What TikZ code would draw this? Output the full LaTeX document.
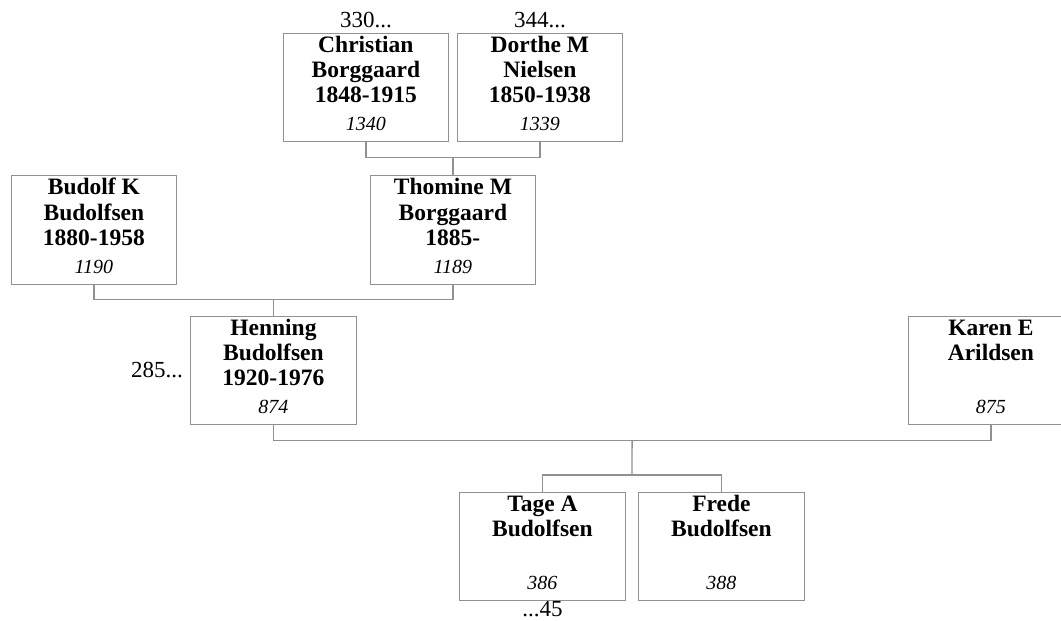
\documentclass[tikz,border=0pt]{standalone}
\usepackage{fontspec}
\setmainfont{Liberation Serif}
\usetikzlibrary{calc}
\definecolor{lc}{RGB}{145,145,145}
\tikzset{
  pbox/.style={draw=lc, line width=1.3pt, minimum width=165.5pt, minimum height=108.5pt, anchor=north west, inner sep=0pt},
  pname/.style={anchor=north, inner sep=0pt, align=center, font=\fontsize{23.5}{25.3}\selectfont\bfseries},
  pnum/.style={anchor=base, inner sep=0pt, font=\fontsize{20}{22}\selectfont\itshape},
  plabel/.style={inner sep=0pt, font=\fontsize{23}{25}\selectfont},
  conn/.style={draw=lc, line width=1.3pt}
}
\begin{document}
\begin{tikzpicture}[x=1pt, y=-1pt]
\useasboundingbox (0,0) rectangle (1061,621);
\clip (0,0) rectangle (1061,621);
% boxes
\node[pbox] (C) at (282.5,32.5) {};
\node[pbox] (D) at (456.5,32.5) {};
\node[pbox] (B) at (10.5,175) {};
\node[pbox] (T) at (369.5,175) {};
\node[pbox] (H) at (190,315.5) {};
\node[pbox] (K) at (907.5,315.5) {};
\node[pbox] (G) at (459,491.5) {};
\node[pbox] (F) at (638,491.5) {};
% names
\node[pname] (Cn) at (C.north) {\rule{0pt}{19.5pt}Christian\\Borggaard\\1848-1915};
\node[pname] (Dn) at (D.north) {\rule{0pt}{19.5pt}Dorthe M\\Nielsen\\1850-1938};
\node[pname] (Bn) at (B.north) {\rule{0pt}{19.5pt}Budolf K\\Budolfsen\\1880-1958};
\node[pname] (Tn) at (T.north) {\rule{0pt}{19.5pt}Thomine M\\Borggaard\\1885-};
\node[pname] (Hn) at (H.north) {\rule{0pt}{19.5pt}Henning\\Budolfsen\\1920-1976};
\node[pname] (Kn) at (K.north) {\rule{0pt}{19.5pt}Karen E\\Arildsen};
\node[pname] (Gn) at (G.north) {\rule{0pt}{19.5pt}Tage A\\Budolfsen};
\node[pname] (Fn) at (F.north) {\rule{0pt}{19.5pt}Frede\\Budolfsen};
% numbers
\node[pnum] (Cx) at ($(C.south)+(0,-11.5)$) {1340};
\node[pnum] (Dx) at ($(D.south)+(0,-11.5)$) {1339};
\node[pnum] (Bx) at ($(B.south)+(0,-11.5)$) {1190};
\node[pnum] (Tx) at ($(T.south)+(0,-11.5)$) {1189};
\node[pnum] (Hx) at ($(H.south)+(0,-11.5)$) {874};
\node[pnum] (Kx) at ($(K.south)+(0,-11.5)$) {875};
\node[pnum] (Gx) at ($(G.south)+(0,-11.5)$) {386};
\node[pnum] (Fx) at ($(F.south)+(0,-11.5)$) {388};
% extra labels
\node[plabel, anchor=base] (Ca) at ($(C.north)+(0,-4.7)$) {330...};
\node[plabel, anchor=base] (Da) at ($(D.north)+(0,-4.7)$) {344...};
\node[plabel, anchor=east] (Ha) at ($(H.west)+(-7,0)$) {285...};
\node[plabel, anchor=base] (Ga) at ($(G.south)+(0,15.5)$) {...45};
% connectors
\coordinate (cd) at ($(C.south)!0.5!(D.south)+(0,15)$);
\draw[conn] (C.south) |- (cd) -| (D.south);
\draw[conn] (cd) -- (T.north);
\coordinate (bt) at ($(B.south)!0.5!(T.south)+(0,15)$);
\draw[conn] (B.south) |- (bt) -| (T.south);
\draw[conn] (bt) -- (H.north);
\coordinate (hk) at ($(H.south)!0.5!(K.south)+(0,15)$);
\draw[conn] (H.south) |- (hk) -| (K.south);
\coordinate (sib) at ($(G.north)!0.5!(F.north)+(0,-16.4)$);
\draw[conn] (hk) -- (sib);
\draw[conn] (G.north) |- (sib) -| (F.north);
\end{tikzpicture}
\end{document}
